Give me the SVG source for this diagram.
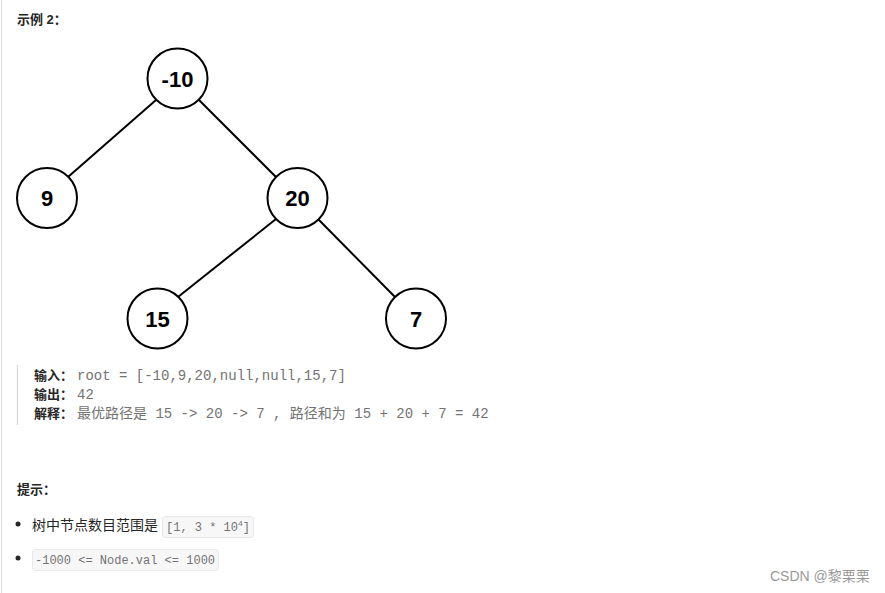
<svg xmlns="http://www.w3.org/2000/svg" width="885" height="593" viewBox="0 0 885 593">
<style>
.node circle{fill:#fff;stroke:#000;stroke-width:2}
.node text{font-family:"Liberation Sans",Arial,sans-serif;font-weight:bold;font-size:22px;text-anchor:middle;fill:#000}
.edge{stroke:#000;stroke-width:2}
.b{font-family:"Liberation Sans","Noto Sans CJK SC",sans-serif;font-weight:bold;font-size:13px;fill:#262626}
.m{font-family:"Liberation Mono","Noto Sans CJK SC",monospace;font-size:14px;fill:#737373}
.t{font-family:"Liberation Sans","Noto Sans CJK SC",sans-serif;font-size:14px;fill:#262626}
.c{font-family:"Liberation Mono",monospace;font-size:12px;fill:#737373}
.code{fill:#f7f7f8;stroke:#e8e8e8;stroke-width:1}
</style>
<rect width="885" height="593" fill="#fff"/>
<line x1="1.5" y1="0" x2="1.5" y2="593" stroke="#dcdcdc" stroke-width="1"/>
<text class="b" x="17" y="24">示例 2：</text>
<g id="connectors">
<line class="edge" x1="156" y1="100" x2="68" y2="177"/>
<line class="edge" x1="199" y1="100" x2="276" y2="177"/>
<line class="edge" x1="276" y1="219" x2="178" y2="297"/>
<line class="edge" x1="318" y1="219" x2="395" y2="297"/>
</g>
<g id="n-10" class="node"><circle cx="177.5" cy="78.5" r="30"/><text x="177.5" y="86.5">-10</text></g>
<g id="n9" class="node"><circle cx="47" cy="198" r="30"/><text x="47" y="206">9</text></g>
<g id="n20" class="node"><circle cx="297.5" cy="198" r="30"/><text x="297.5" y="206">20</text></g>
<g id="n15" class="node"><circle cx="157.5" cy="318.5" r="30"/><text x="157.5" y="326.5">15</text></g>
<g id="n7" class="node"><circle cx="416" cy="318.5" r="30"/><text x="416" y="326.5">7</text></g>
<line x1="17.5" y1="365" x2="17.5" y2="425" stroke="#dcdcdc" stroke-width="1.5"/>
<text class="b" x="34" y="380">输入：</text><text class="m" x="77" y="380">root = [-10,9,20,null,null,15,7]</text>
<text class="b" x="34" y="399">输出：</text><text class="m" x="77" y="399">42</text>
<text class="b" x="34" y="418">解释：</text><text class="m" x="77" y="418">最优路径是 15 -&gt; 20 -&gt; 7 , 路径和为 15 + 20 + 7 = 42</text>
<text class="b" x="17" y="494">提示：</text>
<circle cx="18" cy="524" r="2.5" fill="#262626"/>
<text class="t" x="32" y="530">树中节点数目范围是</text>
<rect class="code" x="162.5" y="516.5" width="91" height="21" rx="3"/>
<text class="c" x="166" y="531">[1, 3 * 10<tspan font-size="8" dy="-5">4</tspan><tspan dy="5">]</tspan></text>
<circle cx="18" cy="558" r="2.5" fill="#262626"/>
<rect class="code" x="32.5" y="549.5" width="186" height="21" rx="3"/>
<text class="c" x="35" y="564">-1000 &lt;= Node.val &lt;= 1000</text>
<text x="770" y="581" font-family="Liberation Sans,'Noto Sans CJK SC',sans-serif" font-size="14" fill="#999">CSDN @黎栗栗</text>
</svg>
